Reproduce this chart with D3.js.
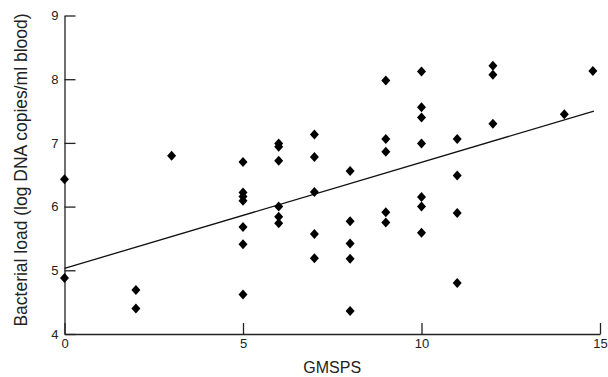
<!DOCTYPE html>
<html>
<head>
<meta charset="utf-8">
<script src="https://cdn.jsdelivr.net/npm/d3@7"></script>
<style>
  body { margin: 0; background: #fff; }
  svg { display: block; }
  .axis { font-family: "Liberation Sans", Arial, sans-serif; }
  .axis path, .axis line { stroke: #222; stroke-width: 1.3; }
  .axis text { font-size: 13px; fill: #222; font-family: "Liberation Sans", Arial, sans-serif; }
  .axis text.xtitle { font-size: 16px; }
  .axis text.ytitle { font-size: 17.5px; }
</style>
</head>
<body>
<svg id="chart" width="608" height="377"></svg>
<script>
// GMSPS score vs bacterial load
var gmsps = [0, 0, 2, 2, 3,
  5, 5, 5, 5, 5, 5, 5,
  6, 6, 6, 6, 6, 6,
  7, 7, 7, 7, 7,
  8, 8, 8, 8, 8,
  9, 9, 9, 9, 9,
  10, 10, 10, 10, 10, 10, 10,
  11, 11, 11, 11,
  12, 12, 12,
  14, 14.8];
var load = [6.43, 4.88, 4.69, 4.40, 6.80,
  6.70, 6.22, 6.16, 6.09, 5.68, 5.41, 4.62,
  6.99, 6.94, 6.72, 6.00, 5.84, 5.74,
  7.13, 6.78, 6.23, 5.57, 5.19,
  6.56, 5.77, 5.42, 5.18, 4.36,
  7.98, 7.06, 6.86, 5.91, 5.75,
  8.12, 7.56, 7.40, 6.99, 6.15, 6.00, 5.59,
  7.06, 6.49, 5.90, 4.80,
  8.21, 8.07, 7.30,
  7.45, 8.13];
var fitX = [0, 14.83];
var fitY = [5.03, 7.50];
var xTicks = [0, 5, 10, 15];
var yTicks = [4, 5, 6, 7, 8, 9];

var svg = d3.select("svg#chart"),
    margin = {top: 15.5, right: 8, bottom: 43, left: 64.5},
    width = +svg.attr("width") - margin.left - margin.right,
    height = +svg.attr("height") - margin.top - margin.bottom,
    g = svg.append("g").attr("transform", "translate(" + margin.left + "," + margin.top + ")");

var x = d3.scaleLinear().domain([0, 15]).range([0, width]);
var y = d3.scaleLinear().domain([4, 9]).range([height, 0]);

g.append("g")
    .attr("class", "axis")
    .attr("transform", "translate(0," + height + ")")
    .call(d3.axisBottom(x).tickValues(xTicks).tickFormat(d3.format("d")).tickSizeInner(-11).tickSizeOuter(0).tickPadding(5))
  .append("text")
    .attr("class", "xtitle")
    .attr("x", width / 2)
    .attr("y", 39)
    .attr("text-anchor", "middle")
    .text("GMSPS");

g.append("g")
    .attr("class", "axis")
    .call(d3.axisLeft(y).tickValues(yTicks).tickFormat(d3.format("d")).tickSizeInner(-11).tickSizeOuter(0).tickPadding(6))
  .append("text")
    .attr("class", "ytitle")
    .attr("transform", "rotate(-90)")
    .attr("x", -154.5)
    .attr("y", -37.5)
    .attr("text-anchor", "middle")
    .text("Bacterial load (log DNA copies/ml blood)");

g.append("line")
    .attr("x1", x(fitX[0])).attr("y1", y(fitY[0]))
    .attr("x2", x(fitX[1])).attr("y2", y(fitY[1]))
    .attr("stroke", "#111")
    .attr("stroke-width", 1.3);

var diamond = "M0,-5L4.5,0L0,5L-4.5,0Z";

g.append("g")
  .selectAll("path")
  .data(gmsps.map(function(d, i) { return {x: d, y: load[i]}; }))
  .enter().append("path")
    .attr("d", diamond)
    .attr("fill", "#000")
    .attr("transform", function(d) { return "translate(" + x(d.x) + "," + y(d.y) + ")"; });
</script>
</body>
</html>
